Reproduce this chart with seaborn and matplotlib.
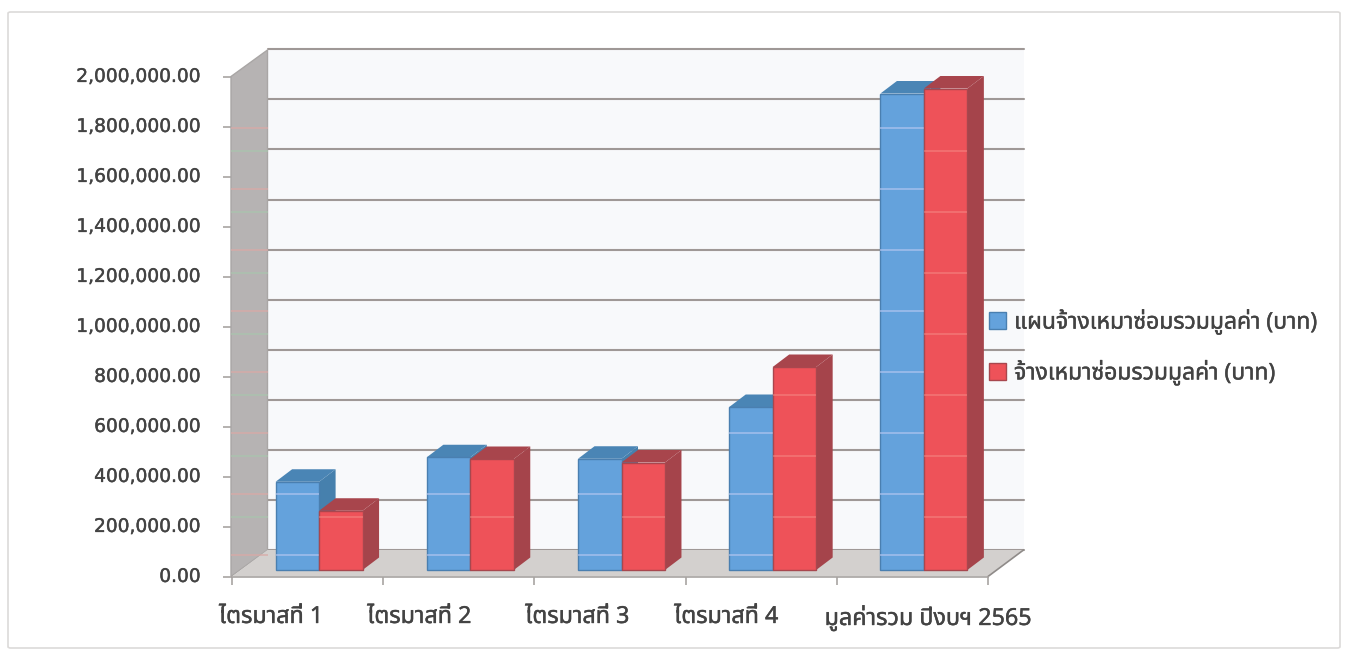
import matplotlib
matplotlib.use("Agg")
import matplotlib.pyplot as plt
import seaborn as sns
import pandas as pd
from matplotlib.colors import to_hex
from matplotlib.patches import FancyBboxPatch, Polygon
from matplotlib.patheffects import withStroke
from matplotlib.transforms import ScaledTranslation

# Amounts in baht by quarter
quarters = ["ไตรมาสที่ 1", "ไตรมาสที่ 2", "ไตรมาสที่ 3", "ไตรมาสที่ 4", "มูลค่ารวม ปีงบฯ 2565"]
series_plan = "แผนจ้างเหมาซ่อมรวมมูลค่า (บาท)"
series_actual = "จ้างเหมาซ่อมรวมมูลค่า (บาท)"
plan_values = [353000, 451000, 445000, 652000, 1906000]
actual_values = [237000, 444000, 430000, 812000, 1926000]
y_ticks = list(range(0, 2000001, 200000))
label_positions = [-0.24, 0.74, 1.785, 2.77, 4.105]

THAI = ["Noto Sans Thai", "Noto Sans", "DejaVu Sans"]
TEXT = "#434343"
W, H = 1349, 666
AXIS = "#a8a4a2"

sns.set_theme(style="white")
plt.rcParams["font.family"] = ["DejaVu Sans"]


def box(left, top, right, bottom):
    """Figure-fraction rectangle from pixel edges."""
    return [left / W, 1 - bottom / H, (right - left) / W, (bottom - top) / H]


def heavier(text, width=0.3):
    """Thicken a text slightly with a stroke in its own colour."""
    text.set_path_effects([withStroke(linewidth=width, foreground=text.get_color())])


fig = plt.figure(figsize=(W / 100, H / 100), dpi=100, facecolor="white")
fig.add_artist(FancyBboxPatch((8 / W, 1 - 648 / H), 1332 / W, 636 / H,
                              boxstyle="round,pad=0,rounding_size=0.002",
                              transform=fig.transFigure, fc="white", ec="#dcdad9", lw=1.2))

# Back wall with its gridlines
ax_back = fig.add_axes(box(267.5, 49.3, 1024, 550), facecolor="#f8f9fb", zorder=1)
ax_back.set_xlim(0, 5)
ax_back.set_ylim(0, 2000000)
ax_back.set_yticks(y_ticks)
ax_back.set_xticks([])
ax_back.tick_params(left=False, labelleft=False)
ax_back.grid(axis="y", color="#9f9896", lw=1.5, clip_on=False)
ax_back.set_axisbelow(True)
sns.despine(ax=ax_back, left=True, bottom=True, right=True, top=True)

# Front plane carrying the axes, ticks and labels
ax = fig.add_axes(box(232, 76.5, 988, 576.5), facecolor="none", zorder=2)
ax.set_xlim(-0.5, 4.5)
ax.set_ylim(0, 2000000)
ax.set_yticks(y_ticks)
ax.set_yticklabels([f"{v:,.2f}" for v in y_ticks], fontsize=13.4, color=TEXT)
ax.set_xticks([i - 0.5 for i in range(6)], labels=[""] * 6)
ax.set_xticks(label_positions, labels=quarters, minor=True, fontsize=16.8, color=TEXT,
              family=THAI)
ax.tick_params(axis="y", length=6.5, width=1.2, color=AXIS, pad=16, left=True)
ax.tick_params(axis="x", which="major", length=6, width=1.2, color=AXIS, bottom=True)
ax.tick_params(axis="x", which="minor", length=0, pad=20.5, bottom=False)
sns.despine(ax=ax, right=True, top=True, left=True, bottom=False)
ax.spines["bottom"].set_color(AXIS)
ax.spines["bottom"].set_linewidth(1.2)
lift = ScaledTranslation(0, 1.5 / 72, fig.dpi_scale_trans)
for tick_label in ax.get_yticklabels():
    heavier(tick_label)
    tick_label.set_transform(tick_label.get_transform() + lift)
for tick_label in ax.get_xticklabels(minor=True):
    heavier(tick_label)

# Side wall and floor, in the front plane's data units
px_x = 5 / 756
px_y = 2000000 / 500
dx = 35.5 * px_x
dy = 26.5 * px_y
wall_left = -0.5 - 1.0 * px_x
wall = Polygon([(wall_left, 0), (wall_left, 2000000), (-0.5 + dx, 2000000 + dy), (-0.5 + dx, dy)],
               fc="#b6b3b3", ec="#a9a6a5", lw=1, clip_on=False, zorder=1)
floor = Polygon([(-0.5, 0), (-0.5 + dx, dy), (4.5 + dx, dy), (4.5, 0)],
                fc="#d3d0ce", ec="none", clip_on=False, zorder=1)
ax.add_patch(wall)
ax.add_patch(floor)
ax.plot([4.5, 4.5 + dx], [0, dy], color="#8f8b89", lw=1.2, clip_on=False, zorder=1)

# Bars sit a few pixels behind the front edge of the floor
ax_bars = fig.add_axes(box(243.5, 70, 999.5, 570), facecolor="none", zorder=3)
frame = pd.DataFrame({
    "quarter": quarters * 2,
    "amount": plan_values + actual_values,
    "series": [series_plan] * 5 + [series_actual] * 5,
})
BLUE, RED = "#64a2dc", "#ee5259"
face = {series_plan: BLUE, series_actual: RED}
sns.barplot(data=frame, x="quarter", y="amount", hue="series", order=quarters,
            hue_order=[series_plan, series_actual], palette=face, width=0.575, gap=0,
            saturation=1, ax=ax_bars, legend=True)
ax_bars.set_xlim(-0.5, 4.5)
ax_bars.set_ylim(0, 2000000)
ax_bars.axis("off")

# Extruded side and top faces derived from each bar's own rectangle
depth_x = 16.5 * px_x
depth_y = 12.5 * px_y
shades = {BLUE: ("#4680ad", "#4a85b5"), RED: ("#a5444b", "#a8454c")}
edge = {BLUE: "#4a7fb0", RED: "#a8474e"}

# Pale horizontal banding across the faces and the side wall
band_rows = {BLUE: range(128, 570, 61), RED: range(151, 570, 61)}
band_colour = {BLUE: "#b9c8f2", RED: "#f7978f"}
band_alpha = {BLUE: 0.7, RED: 0.5}
wall_colour = {BLUE: "#d9a9a6", RED: "#a9c4ad"}

for c_index, container in enumerate(ax_bars.containers):
    colour = to_hex(container.patches[0].get_facecolor())
    side_c, top_c = shades[colour]
    for bar in container.patches:
        z = 3 + c_index * 2 + bar.get_x() * 0.01
        x0, x1 = bar.get_x(), bar.get_x() + bar.get_width()
        y1 = bar.get_height()
        ax_bars.add_patch(Polygon(
            [(x1, 0), (x1 + depth_x, depth_y), (x1 + depth_x, y1 + depth_y), (x1, y1)],
            fc=side_c, ec="none", clip_on=False, zorder=z))
        ax_bars.add_patch(Polygon(
            [(x0, y1), (x0 + depth_x, y1 + depth_y), (x1 + depth_x, y1 + depth_y), (x1, y1)],
            fc=top_c, ec="none", clip_on=False, zorder=z))
        bar.set_edgecolor(edge[colour])
        bar.set_linewidth(1.0)
        bar.set_zorder(z + 0.5)
        bar.set_clip_on(False)
        rows = [(570 - row) * px_y for row in band_rows[colour] if (570 - row) * px_y < y1]
        ax_bars.hlines(rows, x0, x1, color=band_colour[colour], lw=1.2,
                       alpha=band_alpha[colour], zorder=z + 0.6)
    rows_front = [(576.5 - row) * px_y for row in band_rows[colour]]
    ax.hlines(rows_front, wall_left, -0.5 + dx, color=wall_colour[colour], lw=1.2, alpha=0.8,
              clip_on=False, zorder=1.5)

# Legend beside the plot
handles, labels = ax_bars.get_legend_handles_labels()
ax_bars.get_legend().remove()
for handle, label in zip(handles, labels):
    handle.set_edgecolor(edge[face[label]])
    handle.set_linewidth(1.0)
legend = fig.legend(handles, labels, loc="upper left", bbox_to_anchor=(968 / W, 1 - 288 / H),
                    frameon=False, handlelength=0.75, handleheight=0.78, handletextpad=0.36,
                    labelspacing=1.07, prop={"family": THAI, "size": 16.5}, labelcolor=TEXT)
for legend_text in legend.get_texts():
    heavier(legend_text)

fig.savefig("out.png", dpi=100)
